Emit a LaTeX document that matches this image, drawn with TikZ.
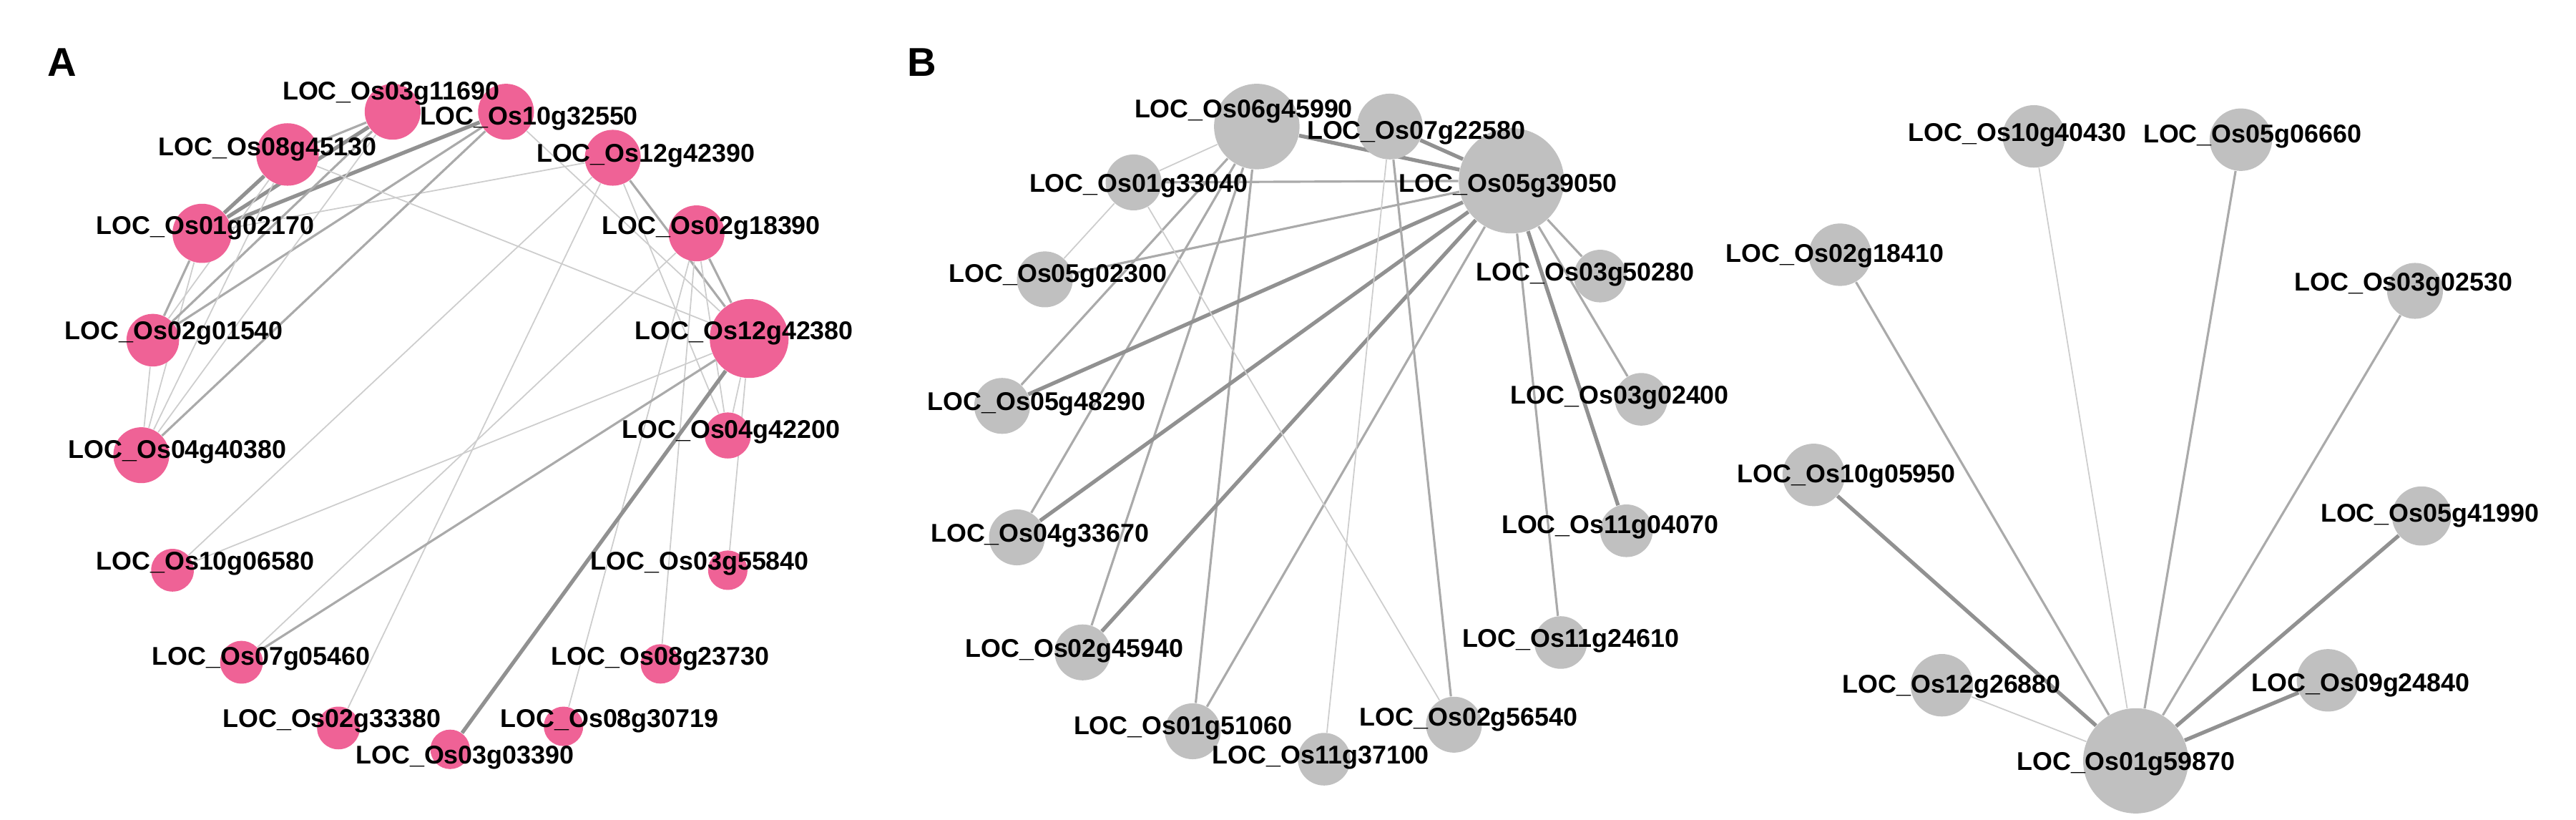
\documentclass[tikz,border=0pt]{standalone}
\usepackage{fontspec}
\setmainfont{Liberation Sans}
\usetikzlibrary{backgrounds}
\definecolor{pinkn}{RGB}{239,98,150}
\definecolor{grayn}{RGB}{192,192,192}
\definecolor{ethick}{RGB}{145,145,145}
\definecolor{emed}{RGB}{170,170,170}
\definecolor{ethin}{RGB}{205,205,205}
\begin{document}
\begin{tikzpicture}[x=0.02297cm,y=-0.02297cm,
  pk/.style={circle,fill=pinkn,draw=none,inner sep=0pt,minimum size=#1*0.04594cm},
  gy/.style={circle,fill=grayn,draw=none,inner sep=0pt,minimum size=#1*0.04594cm},
  lab/.style={font=\fontsize{10.2pt}{12pt}\selectfont\bfseries,inner sep=0pt,text=black},
  panel/.style={font=\fontsize{16pt}{18pt}\selectfont\bfseries,inner sep=0pt},
  tk/.style={draw=ethick,line width=1.5pt},
  md/.style={draw=emed,line width=0.9pt},
  tn/.style={draw=ethin,line width=0.5pt}]
\useasboundingbox (0,0) rectangle (1568,499);
\node[panel] (pA) at (38,38) {A};
\node[panel] (pB) at (561,38) {B};
% Panel A nodes
\node[pk=17] (a1) at (239,68) {};
\node[pk=17] (a2) at (308,68) {};
\node[pk=19] (a3) at (175,94) {};
\node[pk=17] (a4) at (373,96) {};
\node[pk=18] (a5) at (123,142) {};
\node[pk=17] (a6) at (424,142) {};
\node[pk=16] (a7) at (93,207) {};
\node[pk=24] (a8) at (456,206) {};
\node[pk=17] (a9) at (86,277) {};
\node[pk=14] (a10) at (443,265) {};
\node[pk=13] (a11) at (105,347) {};
\node[pk=12] (a12) at (443,347) {};
\node[pk=13] (a13) at (147,403) {};
\node[pk=12] (a14) at (402,404) {};
\node[pk=13] (a15) at (206,443) {};
\node[pk=12] (a16) at (343,442) {};
\node[pk=12] (a17) at (274,456) {};
% Panel B nodes
\node[gy=26] (b1) at (765,77) {};
\node[gy=20] (b2) at (846,77) {};
\node[gy=32] (b3) at (920,110) {};
\node[gy=17] (b4) at (690,111) {};
\node[gy=17] (b5) at (636,170) {};
\node[gy=17] (b6) at (610,247) {};
\node[gy=17] (b7) at (619,327) {};
\node[gy=17] (b8) at (659,397) {};
\node[gy=17] (b9) at (726,445) {};
\node[gy=16] (b10) at (806,462) {};
\node[gy=17] (b11) at (885,441) {};
\node[gy=16] (b12) at (974,168) {};
\node[gy=16] (b13) at (999,243) {};
\node[gy=16] (b14) at (990,323) {};
\node[gy=16] (b15) at (950,391) {};
% Panel B right
\node[gy=19] (c1) at (1238,83) {};
\node[gy=19] (c2) at (1364,85) {};
\node[gy=19] (c3) at (1120,155) {};
\node[gy=17] (c4) at (1470,177) {};
\node[gy=19] (c5) at (1104,289) {};
\node[gy=18] (c6) at (1474,314) {};
\node[gy=19] (c7) at (1182,417) {};
\node[gy=19] (c8) at (1417,414) {};
\node[gy=32] (c9) at (1300,463) {};
\begin{pgfonlayer}{background}
% Panel A edges
\draw[tk] (a5) -- (a1); \draw[tk] (a5) -- (a2); \draw[tk] (a5) -- (a3);
\draw[md] (a5) -- (a7); \draw[tn] (a5) -- (a9); \draw[tn] (a5) -- (a4);
\draw[md] (a7) -- (a1); \draw[md] (a7) -- (a2); \draw[tn] (a7) -- (a3); \draw[tn] (a7) -- (a9);
\draw[md] (a9) -- (a2); \draw[tn] (a9) -- (a1); \draw[tn] (a9) -- (a3);
\draw[md] (a3) -- (a1); \draw[tn] (a3) -- (a8); \draw[tn] (a2) -- (a8);
\draw[md] (a4) -- (a8); \draw[tn] (a4) -- (a11); \draw[tn] (a4) -- (a15); \draw[tn] (a4) -- (a10);
\draw[md] (a6) -- (a8); \draw[tn] (a6) -- (a10); \draw[tn] (a6) -- (a14); \draw[tn] (a6) -- (a16); \draw[tn] (a6) -- (a13);
\draw[tn] (a8) -- (a11); \draw[md] (a8) -- (a13); \draw[tk] (a8) -- (a17); \draw[tn] (a8) -- (a10); \draw[tn] (a8) -- (a12);
% Panel B edges
\draw[tn] (b1) -- (b4); \draw[md] (b1) -- (b6); \draw[md] (b1) -- (b7); \draw[md] (b1) -- (b8); \draw[md] (b1) -- (b9);
\draw[tk] (b3) -- (b1); \draw[tk] (b3) -- (b2); \draw[md] (b3) -- (b4); \draw[md] (b3) -- (b5);
\draw[tk] (b3) -- (b6); \draw[tk] (b3) -- (b7); \draw[tk] (b3) -- (b8); \draw[md] (b3) -- (b9);
\draw[md] (b3) -- (b12); \draw[md] (b3) -- (b13); \draw[tk] (b3) -- (b14); \draw[md] (b3) -- (b15);
\draw[tn] (b4) -- (b5); \draw[tn] (b4) -- (b11); \draw[md] (b2) -- (b11); \draw[tn] (b2) -- (b10);
\draw[tn] (c9) -- (c1); \draw[md] (c9) -- (c2); \draw[md] (c9) -- (c3); \draw[md] (c9) -- (c4);
\draw[tk] (c9) -- (c5); \draw[tk] (c9) -- (c6); \draw[tn] (c9) -- (c7); \draw[tk] (c9) -- (c8);
\end{pgfonlayer}
% Labels A
\node[lab] (la1) at (238,57) {LOC\_Os03g11690};
\node[lab] (la2) at (322,72) {LOC\_Os10g32550};
\node[lab] (la3) at (163,91) {LOC\_Os08g45130};
\node[lab] (la4) at (393,95) {LOC\_Os12g42390};
\node[lab] (la5) at (125,139) {LOC\_Os01g02170};
\node[lab] (la6) at (433,139) {LOC\_Os02g18390};
\node[lab] (la7) at (106,203) {LOC\_Os02g01540};
\node[lab] (la8) at (453,203) {LOC\_Os12g42380};
\node[lab] (la9) at (108,275) {LOC\_Os04g40380};
\node[lab] (la10) at (445,263) {LOC\_Os04g42200};
\node[lab] (la11) at (125,343) {LOC\_Os10g06580};
\node[lab] (la12) at (426,343) {LOC\_Os03g55840};
\node[lab] (la13) at (159,401) {LOC\_Os07g05460};
\node[lab] (la14) at (402,401) {LOC\_Os08g23730};
\node[lab] (la15) at (202,439) {LOC\_Os02g33380};
\node[lab] (la16) at (371,439) {LOC\_Os08g30719};
\node[lab] (la17) at (283,461) {LOC\_Os03g03390};
% Labels B
\node[lab] (lb1) at (757,68) {LOC\_Os06g45990};
\node[lab] (lb2) at (862,81) {LOC\_Os07g22580};
\node[lab] (lb3) at (918,113) {LOC\_Os05g39050};
\node[lab] (lb4) at (693,113) {LOC\_Os01g33040};
\node[lab] (lb5) at (644,168) {LOC\_Os05g02300};
\node[lab] (lb6) at (631,246) {LOC\_Os05g48290};
\node[lab] (lb7) at (633,326) {LOC\_Os04g33670};
\node[lab] (lb8) at (654,396) {LOC\_Os02g45940};
\node[lab] (lb9) at (720,443) {LOC\_Os01g51060};
\node[lab] (lb10) at (804,461) {LOC\_Os11g37100};
\node[lab] (lb11) at (894,438) {LOC\_Os02g56540};
\node[lab] (lb12) at (965,167) {LOC\_Os03g50280};
\node[lab] (lb13) at (986,242) {LOC\_Os03g02400};
\node[lab] (lb14) at (980,321) {LOC\_Os11g04070};
\node[lab] (lb15) at (956,390) {LOC\_Os11g24610};
\node[lab] (lc1) at (1228,82) {LOC\_Os10g40430};
\node[lab] (lc2) at (1371,83) {LOC\_Os05g06660};
\node[lab] (lc3) at (1117,156) {LOC\_Os02g18410};
\node[lab] (lc4) at (1463,173) {LOC\_Os03g02530};
\node[lab] (lc5) at (1124,290) {LOC\_Os10g05950};
\node[lab] (lc6) at (1479,314) {LOC\_Os05g41990};
\node[lab] (lc7) at (1188,418) {LOC\_Os12g26880};
\node[lab] (lc8) at (1437,417) {LOC\_Os09g24840};
\node[lab] (lc9) at (1294,465) {LOC\_Os01g59870};
\end{tikzpicture}
\end{document}
